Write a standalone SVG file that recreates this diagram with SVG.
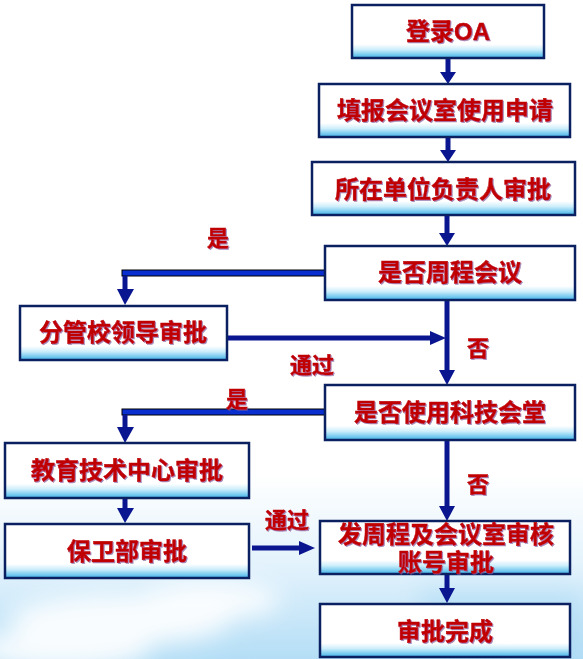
<svg xmlns="http://www.w3.org/2000/svg" width="583" height="659" viewBox="0 0 583 659">
<defs>
<linearGradient id="bg" x1="0" y1="0" x2="0" y2="1">
<stop offset="0" stop-color="#ffffff"/>
<stop offset="0.72" stop-color="#ffffff"/>
<stop offset="0.86" stop-color="#e2f2fc"/>
<stop offset="1" stop-color="#b4def6"/>
</linearGradient>
<linearGradient id="box" x1="0" y1="0" x2="0" y2="1">
<stop offset="0" stop-color="#ffffff"/>
<stop offset="0.74" stop-color="#ffffff"/>
<stop offset="0.84" stop-color="#cdeefb"/>
<stop offset="1" stop-color="#3fb3e8"/>
</linearGradient>
<filter id="blur" x="-50%" y="-50%" width="200%" height="200%"><feGaussianBlur stdDeviation="12"/></filter>
<filter id="ts" x="-10%" y="-10%" width="120%" height="130%"><feDropShadow dx="1" dy="1" stdDeviation="0.4" flood-color="#7a5a9a" flood-opacity="0.7"/></filter>
</defs>
<style>
.b{fill:url(#box);stroke:#0b2060;stroke-width:2.5}
.t{font-family:"Liberation Sans","Noto Sans CJK SC",sans-serif;font-weight:bold;font-size:24px;fill:#c00000;stroke:#c00000;stroke-width:0.5;text-anchor:middle;filter:url(#ts)}
.l{font-family:"Liberation Sans","Noto Sans CJK SC",sans-serif;font-weight:bold;font-size:22px;fill:#c00000;stroke:#c00000;stroke-width:0.5;text-anchor:middle;filter:url(#ts)}
.c{stroke:#0a1690;stroke-width:5;fill:none}
.h{fill:#0a1690}
.y{fill:#0a2fd0;stroke:#000;stroke-width:1}
</style>
<rect width="583" height="659" fill="url(#bg)"/>
<g filter="url(#blur)" fill="#ffffff" opacity="0.9">
<ellipse cx="120" cy="620" rx="110" ry="25"/>
<ellipse cx="210" cy="600" rx="70" ry="18"/>
<ellipse cx="60" cy="650" rx="90" ry="20"/>
</g>
<rect x="420" y="590" width="163" height="69" fill="#9fd4f2" opacity="0.45" filter="url(#blur)"/>

<g id="connectors">
<line class="c" x1="448" y1="58" x2="448" y2="73"/><polygon class="h" points="440,72 456,72 448,84"/>
<line class="c" x1="448" y1="137" x2="448" y2="151"/><polygon class="h" points="440,150 456,150 448,162"/>
<line class="c" x1="447" y1="215" x2="447" y2="234"/><polygon class="h" points="439,233 455,233 447,246"/>
<line class="c" x1="447" y1="300" x2="447" y2="371"/><polygon class="h" points="439,370 455,370 447,385"/>
<line class="c" x1="227" y1="338" x2="431" y2="338"/><polygon class="h" points="430,331 430,345 446,338"/>
<rect class="y" x="122" y="270" width="203" height="6"/>
<line class="c" x1="125" y1="276" x2="125" y2="290"/><polygon class="h" points="117,289 134,289 125,305"/>
<rect class="y" x="122" y="409" width="203" height="6"/>
<line class="c" x1="125" y1="415" x2="125" y2="428"/><polygon class="h" points="117,427 134,427 125,443"/>
<line class="c" x1="125" y1="498" x2="125" y2="509"/><polygon class="h" points="117,508 134,508 125,523"/>
<line class="c" x1="252" y1="548" x2="300" y2="548"/><polygon class="h" points="299,541 299,555 315,548"/>
<line class="c" x1="447" y1="440" x2="447" y2="507"/><polygon class="h" points="439,506 455,506 447,521"/>
<line class="c" x1="447" y1="574" x2="447" y2="589"/><polygon class="h" points="439,588 455,588 447,603"/>
</g>

<g id="n1"><rect class="b" x="352" y="5" width="192" height="53"/><text class="t" x="448" y="40">登录OA</text></g>
<g id="n2"><rect class="b" x="319" y="84" width="251" height="53"/><text class="t" x="445" y="119">填报会议室使用申请</text></g>
<g id="n3"><rect class="b" x="312" y="162" width="263" height="53"/><text class="t" x="443" y="198">所在单位负责人审批</text></g>
<g id="n4"><rect class="b" x="325" y="246" width="250" height="54"/><text class="t" x="450" y="281">是否周程会议</text></g>
<g id="n5"><rect class="b" x="20" y="306" width="207" height="54"/><text class="t" x="123" y="341">分管校领导审批</text></g>
<g id="n6"><rect class="b" x="325" y="385" width="250" height="55"/><text class="t" x="450" y="421">是否使用科技会堂</text></g>
<g id="n7"><rect class="b" x="5" y="443" width="244" height="55"/><text class="t" x="127" y="479">教育技术中心审批</text></g>
<g id="n8"><rect class="b" x="5" y="524" width="244" height="54"/><text class="t" x="127" y="560">保卫部审批</text></g>
<g id="n9"><rect class="b" x="320" y="521" width="250" height="53"/><text class="t" x="446" y="543">发周程及会议室审核</text><text class="t" x="446" y="571">账号审批</text></g>
<g id="n10"><rect class="b" x="320" y="604" width="250" height="53"/><text class="t" x="445" y="640">审批完成</text></g>

<g id="labels">
<text class="l" x="218" y="246">是</text>
<text class="l" x="237" y="407">是</text>
<text class="l" x="478" y="356">否</text>
<text class="l" x="478" y="492">否</text>
<text class="l" x="312" y="373">通过</text>
<text class="l" x="287" y="528">通过</text>
</g>
</svg>
